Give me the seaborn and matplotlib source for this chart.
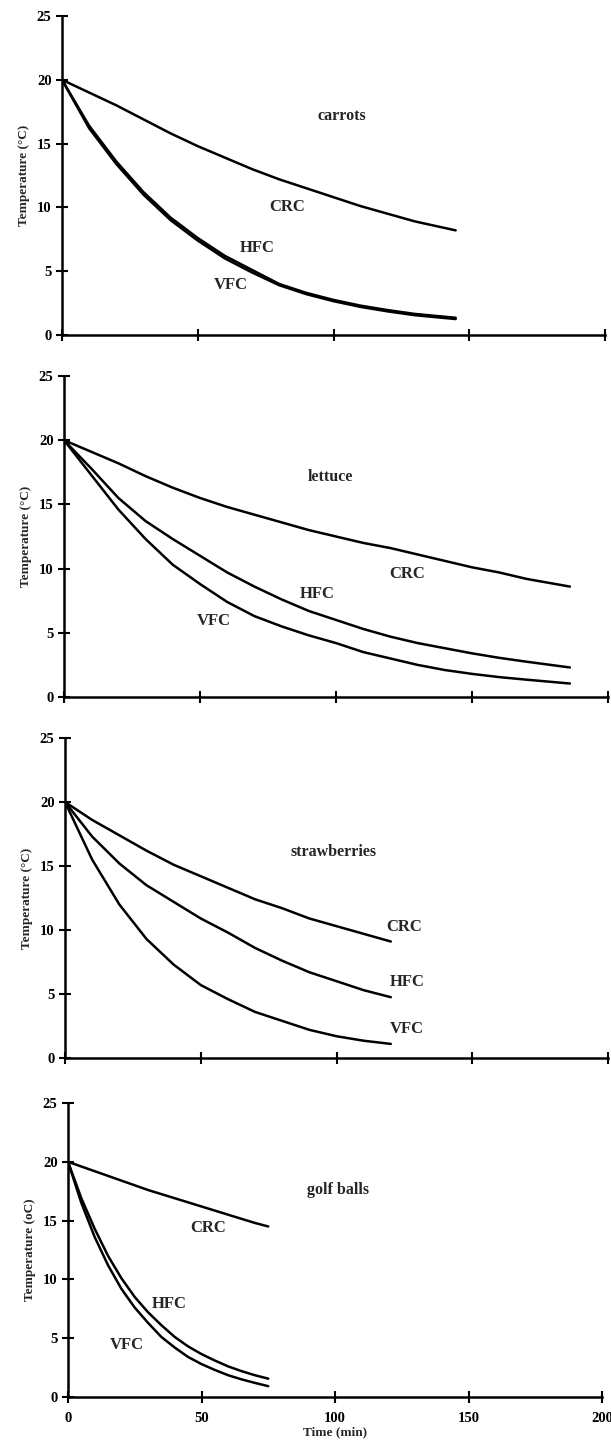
import numpy as np
import pandas as pd
import matplotlib
matplotlib.use("Agg")
import matplotlib.pyplot as plt
import seaborn as sns

# ---------------- data ----------------
carrots_t = [0, 10, 20, 30, 40, 50, 60, 70, 80, 90, 100, 110, 120, 130, 145]
carrots_crc = [20, 19.0, 18.0, 16.9, 15.8, 14.8, 13.9, 13.0, 12.2, 11.5, 10.8, 10.1, 9.5, 8.9, 8.2]
carrots_hfc = [20, 16.4, 13.6, 11.2, 9.2, 7.6, 6.2, 5.1, 4.0, 3.3, 2.75, 2.3, 1.95, 1.65, 1.35]
carrots_vfc = [20, 16.2, 13.4, 11.0, 9.0, 7.4, 6.0, 4.9, 3.9, 3.2, 2.65, 2.2, 1.85, 1.55, 1.25]

lettuce_t = [0, 10, 20, 30, 40, 50, 60, 70, 80, 90, 100, 110, 120, 130, 140, 150, 160, 170, 186]
lettuce_crc = [20, 19.1, 18.2, 17.2, 16.3, 15.5, 14.8, 14.2, 13.6, 13.0, 12.5, 12.0, 11.6, 11.1, 10.6, 10.1, 9.7, 9.2, 8.6]
lettuce_hfc = [20, 17.8, 15.5, 13.7, 12.3, 11.0, 9.7, 8.6, 7.6, 6.7, 6.0, 5.3, 4.7, 4.2, 3.8, 3.4, 3.05, 2.75, 2.3]
lettuce_vfc = [20, 17.3, 14.6, 12.3, 10.3, 8.8, 7.4, 6.3, 5.5, 4.8, 4.2, 3.5, 3.0, 2.5, 2.1, 1.8, 1.55, 1.35, 1.05]

straw_t = [0, 10, 20, 30, 40, 50, 60, 70, 80, 90, 100, 110, 120]
straw_crc = [20, 18.6, 17.4, 16.2, 15.1, 14.2, 13.3, 12.4, 11.7, 10.9, 10.3, 9.7, 9.1]
straw_hfc = [20, 17.3, 15.2, 13.5, 12.2, 10.9, 9.8, 8.6, 7.6, 6.7, 6.0, 5.3, 4.75]
straw_vfc = [20, 15.5, 12.0, 9.3, 7.3, 5.7, 4.6, 3.6, 2.9, 2.2, 1.7, 1.35, 1.1]

golf_t = [0, 5, 10, 15, 20, 25, 30, 35, 40, 45, 50, 55, 60, 65, 70, 75]
golf_crc = [20, 19.6, 19.2, 18.8, 18.4, 18.0, 17.6, 17.25, 16.9, 16.55, 16.2, 15.85, 15.5, 15.15, 14.8, 14.5]
golf_hfc = [20, 16.9, 14.3, 12.0, 10.1, 8.5, 7.2, 6.1, 5.1, 4.3, 3.65, 3.1, 2.6, 2.2, 1.85, 1.56]
golf_vfc = [20, 16.5, 13.6, 11.2, 9.2, 7.6, 6.3, 5.1, 4.2, 3.4, 2.8, 2.3, 1.85, 1.5, 1.2, 0.92]

products = ["carrots", "lettuce", "strawberries", "golf balls"]
methods = ["CRC", "HFC", "VFC"]
y_labels = ["Temperature (\u00b0C)", "Temperature (\u00b0C)", "Temperature (\u00b0C)", "Temperature (oC)"]
x_ticks = [0, 50, 100, 150, 200]
y_ticks = [0, 5, 10, 15, 20, 25]

series = {
    "carrots": (carrots_t, {"CRC": carrots_crc, "HFC": carrots_hfc, "VFC": carrots_vfc}),
    "lettuce": (lettuce_t, {"CRC": lettuce_crc, "HFC": lettuce_hfc, "VFC": lettuce_vfc}),
    "strawberries": (straw_t, {"CRC": straw_crc, "HFC": straw_hfc, "VFC": straw_vfc}),
    "golf balls": (golf_t, {"CRC": golf_crc, "HFC": golf_hfc, "VFC": golf_vfc}),
}

# annotation positions (data coords)
title_pos = {"carrots": (103, 17.2), "lettuce": (98, 17.1), "strawberries": (99, 16.1), "golf balls": (101, 17.6)}
label_pos = {
    "carrots": {"CRC": (83, 10.0), "HFC": (72, 6.8), "VFC": (62, 3.9)},
    "lettuce": {"CRC": (126, 9.6), "HFC": (93, 8.0), "VFC": (55, 5.9)},
    "strawberries": {"CRC": (125, 10.2), "HFC": (126, 5.9), "VFC": (126, 2.3)},
    "golf balls": {"CRC": (52.5, 14.4), "HFC": (38, 7.9), "VFC": (22, 4.4)},
}

rows = []
for p in products:
    t, d = series[p]
    for m in methods:
        for ti, vi in zip(t, d[m]):
            rows.append({"product": p, "method": m, "time": ti, "temp": vi})
df = pd.DataFrame(rows)

# ---------------- styling ----------------
sns.set_theme(style="ticks")
plt.rcParams["font.family"] = ["Liberation Serif", "DejaVu Serif"]
plt.rcParams["font.weight"] = "bold"

fig = plt.figure(figsize=(6.11, 14.47), dpi=100)
W, H = 611, 1447
# (top, bottom, left, right) in pixels for each panel
panels_px = [(16, 335, 62, 605), (376, 697, 64, 608), (738, 1058, 65, 608), (1103, 1397, 68, 602)]

for i, p in enumerate(products):
    top, bot, lft, rgt = panels_px[i]
    ax = fig.add_axes([lft / W, 1 - bot / H, (rgt - lft) / W, (bot - top) / H])
    sub = df[df["product"] == p]
    sns.lineplot(data=sub, x="time", y="temp", units="method", estimator=None,
                 color="black", linewidth=1.8, ax=ax, legend=False)
    ax.set_xlim(0, 200)
    ax.set_ylim(0, 25)
    ax.set_xticks(x_ticks)
    ax.set_yticks(y_ticks)
    sns.despine(ax=ax)
    for s in ["left", "bottom"]:
        ax.spines[s].set_linewidth(1.8)
        ax.spines[s].set_color("black")
    ax.tick_params(direction="inout", length=8, width=1.5, colors="black",
                   labelsize=10.5)
    ax.tick_params(axis="x", pad=7)
    for lab in ax.get_yticklabels():
        lab.set_fontweight("bold")
    if i < 3:
        ax.set_xticklabels([])
        ax.set_xlabel("")
    else:
        ax.set_xticklabels([str(v) for v in x_ticks], fontweight="bold")
        ax.set_xlabel("Time (min)", fontsize=9.5, fontweight="bold", labelpad=1)
    ax.set_ylabel(y_labels[i], fontsize=9.5, fontweight="bold", labelpad=5)
    tx, ty = title_pos[p]
    ax.text(tx, ty, p, ha="center", va="center", fontsize=11.5, fontweight="bold")
    for m in methods:
        lx, ly = label_pos[p][m]
        ax.text(lx, ly, m, ha="center", va="center", fontsize=12, fontweight="bold")

fig.savefig("out.png", dpi=100)
